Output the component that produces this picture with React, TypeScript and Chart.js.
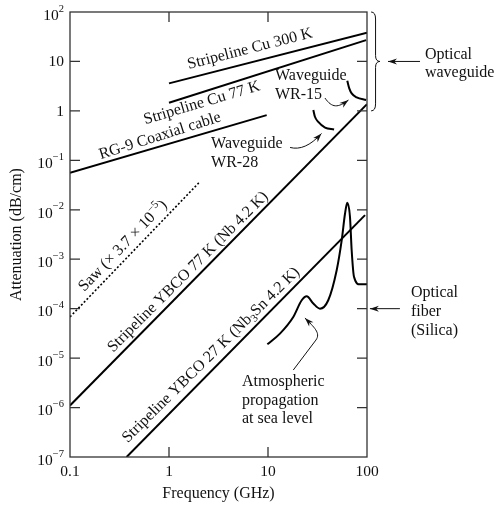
import React, { useEffect, useRef } from 'react';
import { Chart, registerables } from 'chart.js';
Chart.register(...registerables);

const FONT = '"Liberation Serif", "Times New Roman", serif';

// ---- axes ----
const xTickValues = [0.1, 1, 10, 100];
const xTickLabels = ['0.1', '1', '10', '100'];
const yTickValues = [1e-7, 1e-6, 1e-5, 1e-4, 1e-3, 1e-2, 1e-1, 1, 10, 100];
const yTickBase = ['10', '10', '10', '10', '10', '10', '10', '1', '10', '10'];
const yTickExp = ['−7', '−6', '−5', '−4', '−3', '−2', '−1', '', '', '2'];
const xTitle = 'Frequency (GHz)';
const yTitle = 'Attenuation (dB/cm)';

// ---- series (GHz, dB/cm) ----
const cu300X = [1, 100];
const cu300Y = [3.6, 38];
const cu77X = [1, 98];
const cu77Y = [1.46, 27];
const rg9X = [0.1, 9.7];
const rg9Y = [0.056, 0.82];
const sawX = [0.1, 2.0];
const sawY = [6.8e-5, 0.035];
const ybco77X = [0.1, 100];
const ybco77Y = [1.1e-6, 1.37];
const ybco27X = [0.373, 95.5];
const ybco27Y = [1e-7, 7.8e-3];
const wr28X = [28.7, 29.8, 32.2, 37.7, 46.5];
const wr28Y = [1.04, 0.76, 0.6, 0.46, 0.42];
const wr15X = [63.2, 66.2, 70, 78.6, 98];
const wr15Y = [4.07, 2.86, 2.26, 1.88, 1.66];
const atmX = [9.85, 13.2, 18.0, 21.9, 24.6, 28.7, 33.5, 40.6, 49.4, 55.5, 60, 63.2, 67.3, 70, 73.9, 84.9, 100];
const atmY = [1.9e-5, 3.13e-5, 6.8e-5, 1.48e-4, 1.78e-4, 1.27e-4, 1.0e-4, 1.48e-4, 6.0e-4, 2.4e-3, 8.4e-3, 1.38e-2, 7.2e-3, 1.52e-3, 4.4e-4, 3.1e-4, 3.1e-4];

// ---- annotations (in data coordinates) ----
type Seg = { t: string; sup?: boolean; sub?: boolean };
const lineLabels: { segs: Seg[]; x: number; y: number; angle: number }[] = [
  { segs: [{ t: 'Stripeline Cu 300 K' }], x: 6.58, y: 17.9, angle: -14.4 },
  { segs: [{ t: 'Stripeline Cu 77 K' }], x: 2.15, y: 1.44, angle: -16.5 },
  { segs: [{ t: 'RG-9 Coaxial cable' }], x: 0.811, y: 0.31, angle: -17.5 },
  { segs: [{ t: 'Saw (× 3.7 × 10' }, { t: '−5', sup: true }, { t: ')' }], x: 0.343, y: 1.85e-3, angle: -46 },
  { segs: [{ t: 'Stripeline YBCO 77 K (Nb 4.2 K)' }], x: 1.556, y: 5.5e-4, angle: -45 },
  { segs: [{ t: 'Stripeline YBCO 27 K (Nb' }, { t: '3', sub: true }, { t: 'Sn 4.2 K)' }], x: 2.66, y: 1.15e-5, angle: -44.6 },
];
const notes: { lines: string[]; x: number; y: number[] }[] = [
  { lines: ['Waveguide', 'WR-28'], x: 2.66, y: [0.214, 0.0883] },
  { lines: ['Waveguide', 'WR-15'], x: 11.77, y: [5.08, 2.1] },
  { lines: ['Atmospheric', 'propagation', 'at sea level'], x: 5.46, y: [3.28e-6, 1.36e-6, 5.86e-7] },
  { lines: ['Optical', 'waveguide'], x: 385, y: [13.5, 5.84] },
  { lines: ['Optical', 'fiber', '(Silica)'], x: 278, y: [2.07e-4, 8.55e-5, 3.53e-5] },
];
const arrows: number[][][] = [
  [[16.7, 0.182], [21.0, 0.162], [26.6, 0.195], [34.7, 0.349]],
  [[37.6, 1.82], [44.3, 1.14], [50.9, 1.14], [65.0, 1.66]],
  [[18.0, 5.74e-6], [30.5, 2.32e-5], [34.3, 3.22e-5], [29.1, 4.25e-5], [23.6, 6.47e-5]],
  [[343, 10], [163, 10]],
  [[215, 1e-4], [107, 1e-4]],
];
const braceX = [110, 122, 135];
const braceY = [100, 10, 1];

function drawRich(ctx: CanvasRenderingContext2D, segs: Seg[], cx: number, cy: number, angle: number) {
  const MAIN = `16px ${FONT}`;
  const SMALL = `11px ${FONT}`;
  ctx.save();
  ctx.translate(cx, cy);
  ctx.rotate((angle * Math.PI) / 180);
  let w = 0;
  for (const s of segs) {
    ctx.font = s.sup || s.sub ? SMALL : MAIN;
    w += ctx.measureText(s.t).width;
  }
  let x0 = -w / 2;
  ctx.textAlign = 'left';
  ctx.textBaseline = 'middle';
  for (const s of segs) {
    ctx.font = s.sup || s.sub ? SMALL : MAIN;
    const dy = s.sup ? -5.5 : s.sub ? 4.5 : 0;
    ctx.fillText(s.t, x0, dy);
    x0 += ctx.measureText(s.t).width;
  }
  ctx.restore();
}

const annotPlugin = {
  id: 'annot',
  afterDraw(chart: any) {
    const { ctx, chartArea: a } = chart;
    const xs = chart.scales.x;
    const ys = chart.scales.y;
    const PX = (v: number) => xs.getPixelForValue(v);
    const PY = (v: number) => ys.getPixelForValue(v);
    ctx.save();
    ctx.fillStyle = '#111';
    ctx.strokeStyle = '#333';

    // frame
    ctx.lineWidth = 1.3;
    ctx.strokeRect(a.left, a.top, a.right - a.left, a.bottom - a.top);

    // inward ticks
    const TL = 10;
    ctx.beginPath();
    for (const v of yTickValues) {
      const py = PY(v);
      if (py > a.top + 1 && py < a.bottom - 1) {
        ctx.moveTo(a.left, py);
        ctx.lineTo(a.left + TL, py);
        ctx.moveTo(a.right, py);
        ctx.lineTo(a.right - TL, py);
      }
    }
    for (const v of xTickValues) {
      const px = PX(v);
      if (px > a.left + 1 && px < a.right - 1) {
        ctx.moveTo(px, a.top);
        ctx.lineTo(px, a.top + TL);
        ctx.moveTo(px, a.bottom);
        ctx.lineTo(px, a.bottom - TL);
      }
    }
    ctx.stroke();

    // tick labels
    ctx.fillStyle = '#111';
    ctx.textBaseline = 'alphabetic';
    xTickValues.forEach((v, i) => {
      ctx.font = `15.5px ${FONT}`;
      ctx.textAlign = 'center';
      ctx.fillText(xTickLabels[i], PX(v), a.bottom + 19);
    });
    yTickValues.forEach((v, i) => {
      const py = PY(v);
      const right = a.left - 6;
      const base = yTickBase[i];
      const exp = yTickExp[i];
      ctx.textAlign = 'left';
      ctx.font = `10.5px ${FONT}`;
      const ew = exp ? ctx.measureText(exp).width : 0;
      ctx.font = `15.5px ${FONT}`;
      const bw = ctx.measureText(base).width;
      const baseline = exp ? py + 7.8 : py + 5;
      ctx.fillText(base, right - ew - bw, baseline);
      if (exp) {
        ctx.font = `10.5px ${FONT}`;
        ctx.fillText(exp, right - ew, baseline - 8.2);
      }
    });

    // axis titles
    ctx.font = `16px ${FONT}`;
    ctx.textAlign = 'center';
    ctx.textBaseline = 'alphabetic';
    ctx.fillText(xTitle, (a.left + a.right) / 2, a.bottom + 41);
    ctx.save();
    ctx.translate(20.5, (a.top + a.bottom) / 2);
    ctx.rotate(-Math.PI / 2);
    ctx.fillText(yTitle, 0, 0);
    ctx.restore();

    // series labels
    for (const l of lineLabels) drawRich(ctx, l.segs, PX(l.x), PY(l.y), l.angle);

    // notes
    ctx.font = `16px ${FONT}`;
    ctx.textAlign = 'left';
    ctx.textBaseline = 'middle';
    for (const n of notes) n.lines.forEach((t, i) => ctx.fillText(t, PX(n.x), PY(n.y[i])));

    // arrows
    ctx.strokeStyle = '#111';
    ctx.lineWidth = 1;
    for (const ar of arrows) {
      const p = ar.map(([vx, vy]) => [PX(vx), PY(vy)]);
      ctx.beginPath();
      ctx.moveTo(p[0][0], p[0][1]);
      let from: number[];
      let k = 1;
      if (p.length === 5) {
        ctx.lineTo(p[1][0], p[1][1]);
        k = 2;
      }
      if (p.length === 2) {
        ctx.lineTo(p[1][0], p[1][1]);
        from = p[0];
      } else {
        ctx.bezierCurveTo(p[k][0], p[k][1], p[k + 1][0], p[k + 1][1], p[k + 2][0], p[k + 2][1]);
        from = p[k + 1];
      }
      const tip = p[p.length - 1];
      const dx = tip[0] - from[0];
      const dy = tip[1] - from[1];
      const len = Math.hypot(dx, dy) || 1;
      const ux = dx / len;
      const uy = dy / len;
      const L = 9;
      const H = 3;
      // stop line at arrow base
      ctx.stroke();
      ctx.beginPath();
      ctx.moveTo(tip[0], tip[1]);
      ctx.lineTo(tip[0] - ux * L - uy * H, tip[1] - uy * L + ux * H);
      ctx.lineTo(tip[0] - ux * L * 0.7, tip[1] - uy * L * 0.7);
      ctx.lineTo(tip[0] - ux * L + uy * H, tip[1] - uy * L - ux * H);
      ctx.closePath();
      ctx.fill();
    }

    // brace
    const bx0 = PX(braceX[0]);
    const bx1 = PX(braceX[1]);
    const bx2 = PX(braceX[2]);
    const yt = PY(braceY[0]);
    const ym = PY(braceY[1]);
    const yb = PY(braceY[2]);
    ctx.lineWidth = 1;
    ctx.beginPath();
    ctx.moveTo(bx0, yt);
    ctx.quadraticCurveTo(bx1, yt, bx1, yt + 7);
    ctx.lineTo(bx1, ym - 6);
    ctx.quadraticCurveTo(bx1, ym, bx2, ym);
    ctx.quadraticCurveTo(bx1, ym, bx1, ym + 6);
    ctx.lineTo(bx1, yb - 7);
    ctx.quadraticCurveTo(bx1, yb, bx0, yb);
    ctx.stroke();

    ctx.restore();
  },
};

const mk = (xs: number[], ys: number[], extra: any = {}) => ({
  data: xs.map((x, i) => ({ x, y: ys[i] })),
  showLine: true,
  borderColor: '#000',
  backgroundColor: '#000',
  borderWidth: 2,
  pointRadius: 0,
  pointHoverRadius: 0,
  fill: false,
  ...extra,
});

export default function App() {
  const ref = useRef<HTMLCanvasElement | null>(null);
  useEffect(() => {
    document.body.style.margin = '0';
    const canvas = ref.current;
    if (!canvas) return;
    const chart = new Chart(canvas, {
      type: 'scatter',
      data: {
        datasets: [
          mk(cu300X, cu300Y),
          mk(cu77X, cu77Y),
          mk(rg9X, rg9Y),
          mk(sawX, sawY, { borderWidth: 1.6, borderDash: [2, 2] }),
          mk(ybco77X, ybco77Y),
          mk(ybco27X, ybco27Y),
          mk(wr28X, wr28Y, { cubicInterpolationMode: 'monotone' }),
          mk(wr15X, wr15Y, { cubicInterpolationMode: 'monotone' }),
          mk(atmX, atmY, { cubicInterpolationMode: 'monotone' }),
        ],
      },
      options: {
        responsive: false,
        animation: false,
        events: [],
        layout: { padding: { top: 12, right: 129, left: 0, bottom: 0 } },
        plugins: { legend: { display: false }, tooltip: { enabled: false } },
        scales: {
          x: {
            type: 'logarithmic',
            min: 0.1,
            max: 100,
            ticks: { display: false },
            grid: { display: false, drawTicks: false },
            border: { display: false },
            afterFit: (s: any) => {
              s.height = 49;
            },
          },
          y: {
            type: 'logarithmic',
            min: 1e-7,
            max: 100,
            ticks: { display: false },
            grid: { display: false, drawTicks: false },
            border: { display: false },
            afterFit: (s: any) => {
              s.width = 70;
            },
          },
        },
      },
      plugins: [annotPlugin],
    } as any);
    return () => chart.destroy();
  }, []);
  return <canvas ref={ref} width={496} height={506} style={{ display: 'block' }} />;
}
